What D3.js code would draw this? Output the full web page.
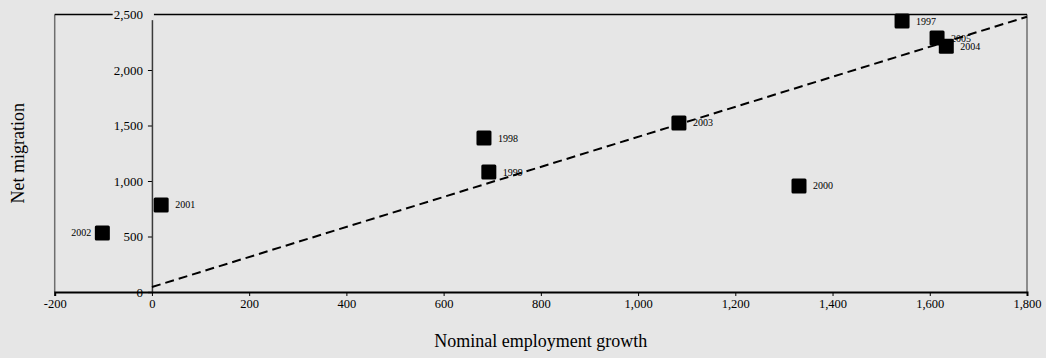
<!DOCTYPE html>
<html>
<head>
<meta charset="utf-8">
<script src="https://cdn.jsdelivr.net/npm/d3@7"></script>
<style>
  html, body { margin: 0; padding: 0; background: #e6e6e6; }
  svg { display: block; }
  text { font-family: "Liberation Serif", "Times New Roman", serif; fill: #000; }
</style>
</head>
<body>
<svg id="chart" width="1046" height="358"></svg>
<script>
// Year of each observation
const years = ["1997", "1998", "1999", "2000", "2001", "2002", "2003", "2004", "2005"];
// Nominal employment growth (x)
const employmentGrowth = [1543, 683, 693, 1331, 19, -102, 1084, 1634, 1615];
// Net migration (y)
const netMigration = [2441, 1387, 1081, 955, 784, 532, 1523, 2214, 2288];
// Label side for each point
const labelSide = ["right", "right", "right", "right", "right", "left", "right", "right", "right"];

// Trend line end points
const trendX = [0, 1800];
const trendY = [45, 2480];

// Axis ticks
const xTicks = [-200, 0, 200, 400, 600, 800, 1000, 1200, 1400, 1600, 1800];
const yTicks = [0, 500, 1000, 1500, 2000, 2500];

const svg = d3.select("#chart");
const plotL = 54.7, plotR = 1027, plotT = 14.5, plotB = 292;

const x = d3.scaleLinear().domain([-200, 1800]).range([plotL, plotR]);
const y = d3.scaleLinear().domain([0, 2500]).range([plotB, plotT]);
// thousands separator, plain hyphen for negatives
const fmt = v => d3.format(",")(v).replace("\u2212", "-");

// Plot frame: grey sides, black top
svg.append("line").attr("x1", plotL).attr("x2", plotL).attr("y1", plotT).attr("y2", plotB)
  .attr("stroke", "#6e6e6e").attr("stroke-width", 1.5);
svg.append("line").attr("x1", plotR).attr("x2", plotR).attr("y1", plotT).attr("y2", plotB)
  .attr("stroke", "#6e6e6e").attr("stroke-width", 1.5);
svg.append("line").attr("x1", plotL).attr("x2", plotR).attr("y1", plotT).attr("y2", plotT)
  .attr("stroke", "#000").attr("stroke-width", 1.5);

// Y axis at x = 0
const yAxis = svg.append("g")
  .attr("transform", `translate(${x(0)},0)`)
  .attr("font-family", '"Liberation Serif", serif')
  .call(d3.axisLeft(y).tickValues(yTicks).tickFormat(fmt).tickSize(4).tickPadding(5));
yAxis.attr("font-family", '"Liberation Serif", serif').attr("font-size", 13);
yAxis.select(".domain").attr("stroke", "#3a3a3a").attr("stroke-width", 1.5);
yAxis.selectAll(".tick line").attr("stroke", "#000").attr("stroke-width", 1);
yAxis.selectAll(".tick text").attr("fill", "#000");

// X axis at y = 0
const xAxis = svg.append("g")
  .attr("transform", `translate(0,${y(0)})`)
  .call(d3.axisBottom(x).tickValues(xTicks).tickFormat(fmt).tickSize(4).tickPadding(3));
xAxis.attr("font-family", '"Liberation Serif", serif').attr("font-size", 12.5);
xAxis.select(".domain").attr("stroke", "#000").attr("stroke-width", 2);
xAxis.selectAll(".tick line").attr("stroke", "#000").attr("stroke-width", 1);
xAxis.selectAll(".tick text").attr("fill", "#000");

// Background behind the top y tick label so the frame line breaks there
yAxis.selectAll(".tick").filter(d => d === 2500).each(function() {
  const t = d3.select(this).select("text");
  const bb = t.node().getBBox();
  d3.select(this).insert("rect", "text")
    .attr("x", bb.x - 1).attr("y", bb.y + 2).attr("width", bb.width + 12).attr("height", bb.height - 4)
    .attr("fill", "#e6e6e6");
});

const pts = years.map((yr, i) => ({ yr, gx: employmentGrowth[i], my: netMigration[i], side: labelSide[i] }));

// Year labels beside each point
svg.append("g").selectAll("text").data(pts).join("text")
  .attr("x", d => d.side === "left" ? x(d.gx) - 11 : x(d.gx) + 14)
  .attr("y", d => y(d.my))
  .attr("dy", "0.35em")
  .attr("text-anchor", d => d.side === "left" ? "end" : "start")
  .style("font-size", "10px")
  .text(d => d.yr);

// Square markers
const size = 15;
svg.append("g").selectAll("rect").data(pts).join("rect")
  .attr("x", d => x(d.gx) - size / 2)
  .attr("y", d => y(d.my) - size / 2)
  .attr("width", size).attr("height", size)
  .attr("rx", 1.5)
  .attr("fill", "#000");

// Dashed trend line
svg.append("line")
  .attr("x1", x(trendX[0])).attr("y1", y(trendY[0]))
  .attr("x2", x(trendX[1])).attr("y2", y(trendY[1]))
  .attr("stroke", "#000").attr("stroke-width", 2)
  .attr("stroke-dasharray", "9,5");

// Axis titles
svg.append("text")
  .attr("x", (plotL + plotR) / 2).attr("y", 341)
  .attr("dy", "0.35em")
  .attr("text-anchor", "middle")
  .style("font-size", "18px")
  .text("Nominal employment growth");

svg.append("text")
  .attr("transform", `translate(18,${(plotT + plotB) / 2}) rotate(-90)`)
  .attr("dy", "0.35em")
  .attr("text-anchor", "middle")
  .style("font-size", "18px")
  .text("Net migration");
</script>
</body>
</html>
